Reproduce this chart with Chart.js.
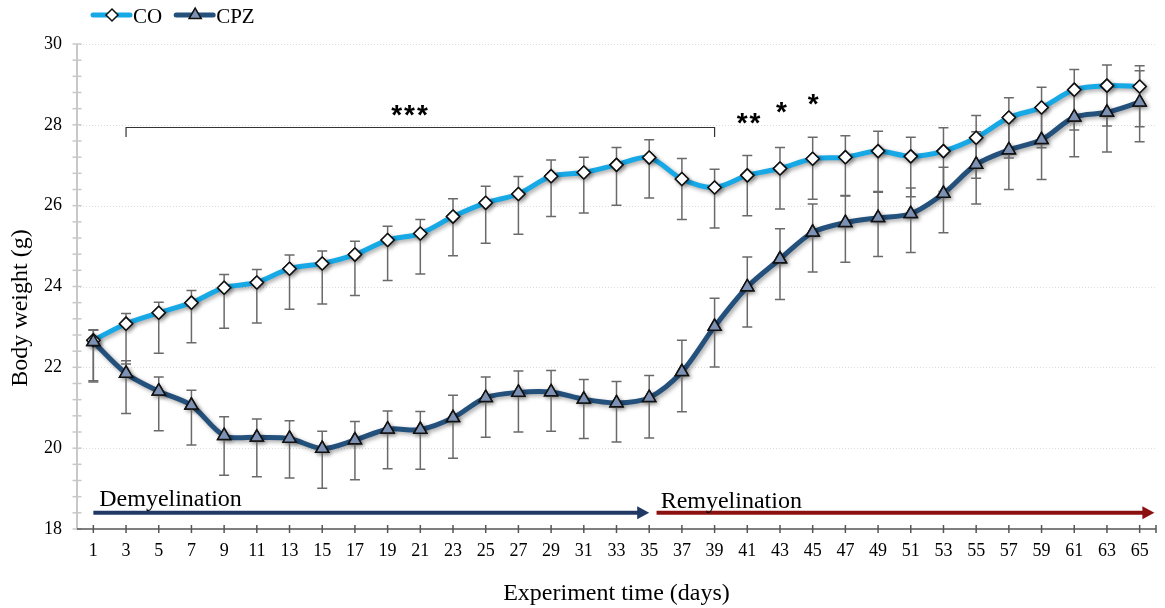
<!DOCTYPE html>
<html><head><meta charset="utf-8">
<script src="https://cdn.jsdelivr.net/npm/chart.js@4.4.1/dist/chart.umd.min.js"></script>
<style>html,body{margin:0;padding:0;background:#fff;}#wrap{width:1165px;height:608px;}</style>
</head><body><div id="wrap"><canvas id="c" width="1165" height="608"></canvas></div>
<script>
// ---- data ----
const days = [1,3,5,7,9,11,13,15,17,19,21,23,25,27,29,31,33,35,37,39,41,43,45,47,49,51,53,55,57,59,61,63,65];
const seriesNames = ['CO','CPZ'];
const coMean  = [22.67,23.08,23.35,23.60,23.97,24.10,24.44,24.57,24.79,25.15,25.31,25.73,26.07,26.29,26.73,26.82,27.01,27.19,26.66,26.45,26.75,26.92,27.16,27.20,27.35,27.22,27.35,27.68,28.18,28.43,28.87,28.97,28.95];
const coPlus  = [0.25,0.25,0.26,0.30,0.33,0.32,0.34,0.31,0.33,0.34,0.35,0.44,0.41,0.43,0.40,0.38,0.43,0.44,0.51,0.45,0.49,0.52,0.53,0.53,0.49,0.47,0.58,0.55,0.49,0.50,0.50,0.51,0.51];
const coMinus = [1.00,1.00,1.00,0.99,1.00,1.00,1.00,1.00,1.01,1.00,1.00,0.97,1.00,1.00,1.00,1.00,1.00,1.00,1.00,1.00,1.00,1.00,1.00,0.95,1.00,1.00,1.00,1.00,1.00,1.00,1.00,1.00,1.00];
const cpzMean  = [22.63,21.85,21.41,21.06,20.31,20.27,20.24,19.99,20.20,20.47,20.46,20.75,21.25,21.38,21.39,21.21,21.12,21.25,21.89,23.01,23.99,24.68,25.34,25.58,25.70,25.80,26.30,27.02,27.38,27.63,28.19,28.31,28.56];
const cpzPlus  = [0.30,0.31,0.35,0.37,0.47,0.45,0.44,0.43,0.46,0.45,0.45,0.56,0.51,0.53,0.53,0.49,0.53,0.55,0.78,0.70,0.74,0.75,0.70,0.66,0.63,0.64,0.65,0.81,0.70,0.70,0.72,0.72,0.78];
const cpzMinus = [0.99,0.99,0.98,0.98,0.98,0.98,0.98,0.98,0.98,0.98,0.98,1.00,0.98,0.98,0.97,0.97,0.97,1.00,0.99,1.00,0.99,1.00,0.98,0.98,0.96,0.96,0.97,0.98,0.98,0.98,0.98,0.98,0.98];
const yTicks = [18,20,22,24,26,28,30];
const phaseLabels = ['Demyelination','Remyelination'];
const sigLabels = ['***','**','*','*'];
const xTitle = 'Experiment time (days)';
const yTitle = 'Body weight (g)';

const SERIF = 'Liberation Serif';
Chart.defaults.font.family = SERIF;
Chart.defaults.color = '#000';

const toPts = (xs, ys) => xs.map((d, i) => ({x: d, y: ys[i]}));

// line shadow
const shadowPlugin = {
  id: 'shadow',
  beforeDatasetDraw(chart) {
    const ctx = chart.ctx; ctx.save();
    ctx.shadowColor = 'rgba(0,0,0,0.35)'; ctx.shadowBlur = 4; ctx.shadowOffsetX = 2; ctx.shadowOffsetY = 2;
  },
  afterDatasetDraw(chart) { chart.ctx.restore(); }
};

// axes, grid and ticks drawn like the original
const axesPlugin = {
  id: 'axesLook',
  beforeDatasetsDraw(chart, args, opts) {
    const {ctx, chartArea: a, scales: {x, y}} = chart;
    ctx.save();
    ctx.strokeStyle = '#dcdcdc'; ctx.lineWidth = 1; ctx.setLineDash([1, 2]);
    y.ticks.forEach(t => {
      if (t.value <= y.min) return;
      const py = Math.round(y.getPixelForValue(t.value)) + 0.5;
      ctx.beginPath(); ctx.moveTo(a.left, py); ctx.lineTo(a.right, py); ctx.stroke();
    });
    ctx.setLineDash([]);
    ctx.strokeStyle = '#c8c8c8'; ctx.lineWidth = 2;
    ctx.beginPath(); ctx.moveTo(a.left, a.top); ctx.lineTo(a.left, a.bottom); ctx.stroke();
    ctx.lineWidth = 1.5;
    for (let v = y.min; v <= y.max + 1e-6; v += opts.yMinorStep) {
      const py = y.getPixelForValue(v);
      ctx.beginPath(); ctx.moveTo(a.left - 4.5, py); ctx.lineTo(a.left + 4.5, py); ctx.stroke();
    }
    ctx.strokeStyle = '#555'; ctx.lineWidth = 1.5;
    ctx.beginPath(); ctx.moveTo(a.left, a.bottom); ctx.lineTo(a.right, a.bottom); ctx.stroke();
    const xt = x.ticks.map(t => t.value).concat([x.max]);
    xt.forEach(v => {
      const px = x.getPixelForValue(v);
      ctx.beginPath(); ctx.moveTo(px, a.bottom - 4); ctx.lineTo(px, a.bottom + 4); ctx.stroke();
    });
    ctx.restore();
  }
};

// error bars (drawn over lines, markers redrawn on top)
const errorBarPlugin = {
  id: 'errorBars',
  afterDatasetsDraw(chart) {
    const {ctx, scales: {x, y}} = chart;
    ctx.save();
    ctx.strokeStyle = '#6a6a6a'; ctx.lineWidth = 1.5;
    chart.data.datasets.forEach(ds => {
      ds.data.forEach((p, i) => {
        const px = x.getPixelForValue(p.x);
        const top = y.getPixelForValue(p.y + ds.errPlus[i]);
        const bot = y.getPixelForValue(p.y - ds.errMinus[i]);
        ctx.beginPath();
        ctx.moveTo(px, top); ctx.lineTo(px, bot);
        ctx.moveTo(px - 5, top); ctx.lineTo(px + 5, top);
        ctx.moveTo(px - 5, bot); ctx.lineTo(px + 5, bot);
        ctx.stroke();
      });
    });
    ctx.restore();
    const metas = chart.getSortedVisibleDatasetMetas();
    for (let k = metas.length - 1; k >= 0; k--) {
      metas[k].data.forEach(pt => pt.draw(ctx, chart.chartArea));
    }
  }
};

// legend, annotations, y title
const decoPlugin = {
  id: 'deco',
  afterDraw(chart, args, o) {
    const {ctx, scales: {x, y}} = chart;
    ctx.save();
    let cx = o.legendX;
    chart.data.datasets.forEach(ds => {
      ctx.strokeStyle = ds.borderColor; ctx.lineWidth = 5; ctx.lineCap = 'round';
      ctx.beginPath(); ctx.moveTo(cx, o.legendY); ctx.lineTo(cx + 37, o.legendY); ctx.stroke();
      ctx.fillStyle = ds.pointBackgroundColor; ctx.strokeStyle = ds.pointBorderColor; ctx.lineWidth = 1.5;
      Chart.helpers.drawPoint(ctx, {pointStyle: ds.pointStyle, radius: ds.pointRadius - 0.5, rotation: 0, borderWidth: 1.5}, cx + 19, o.legendY);
      ctx.font = '21px ' + SERIF; ctx.fillStyle = '#000'; ctx.textBaseline = 'alphabetic'; ctx.textAlign = 'left';
      ctx.fillText(ds.label, cx + 40, o.legendY + 8);
      cx += 40 + ctx.measureText(ds.label).width + 14;
    });
    o.phases.forEach(ph => {
      const x0 = x.getPixelForValue(ph.from), x1 = x.getPixelForValue(ph.to), py = y.getPixelForValue(ph.y);
      ctx.strokeStyle = ph.color; ctx.fillStyle = ph.color; ctx.lineWidth = 4; ctx.lineCap = 'butt';
      ctx.beginPath(); ctx.moveTo(x0, py); ctx.lineTo(x1 - 10, py); ctx.stroke();
      ctx.beginPath(); ctx.moveTo(x1, py); ctx.lineTo(x1 - 12, py - 6.5); ctx.lineTo(x1 - 12, py + 6.5); ctx.closePath(); ctx.fill();
      ctx.fillStyle = '#000'; ctx.font = '24px ' + SERIF; ctx.textAlign = 'left'; ctx.textBaseline = 'alphabetic';
      ctx.fillText(ph.text, x.getPixelForValue(ph.textX), y.getPixelForValue(ph.textY));
    });
    const b = o.bracket;
    const bx0 = x.getPixelForValue(b.from), bx1 = x.getPixelForValue(b.to);
    const by = Math.round(y.getPixelForValue(b.y)) + 0.5, bl = y.getPixelForValue(b.leg);
    ctx.strokeStyle = '#333'; ctx.lineWidth = 1.2; ctx.lineCap = 'butt';
    ctx.beginPath(); ctx.moveTo(bx0, bl); ctx.lineTo(bx0, by); ctx.lineTo(bx1, by); ctx.lineTo(bx1, bl); ctx.stroke();
    ctx.fillStyle = '#000'; ctx.font = 'bold 28px Liberation Sans'; ctx.textAlign = 'center'; ctx.textBaseline = 'alphabetic';
    if ('letterSpacing' in ctx) ctx.letterSpacing = '2px';
    o.stars.forEach(s => {
      ctx.fillText(s.text, x.getPixelForValue(s.x) + 1, y.getPixelForValue(s.y) + 12);
    });
    if ('letterSpacing' in ctx) ctx.letterSpacing = '0px';
    ctx.translate(o.yTitleX, o.yTitleY); ctx.rotate(-Math.PI / 2);
    ctx.font = '24px ' + SERIF; ctx.textAlign = 'center'; ctx.textBaseline = 'middle';
    ctx.fillText(yTitle, 0, 0);
    ctx.restore();
  }
};

new Chart(document.getElementById('c'), {
  type: 'line',
  data: {
    datasets: [
      { label: seriesNames[0], data: toPts(days, coMean), errPlus: coPlus, errMinus: coMinus,
        borderColor: '#17A8E6', borderWidth: 5, tension: 0.3, fill: false,
        pointStyle: 'rectRot', pointRadius: 6.5, pointBackgroundColor: '#ffffff', pointBorderColor: '#111', pointBorderWidth: 1.5, order: 1 },
      { label: seriesNames[1], data: toPts(days, cpzMean), errPlus: cpzPlus, errMinus: cpzMinus,
        borderColor: '#24507C', borderWidth: 5, tension: 0.3, fill: false,
        pointStyle: 'triangle', pointRadius: 7.5, pointBackgroundColor: '#7C91B3', pointBorderColor: '#111', pointBorderWidth: 1.5, order: 0 }
    ]
  },
  options: {
    responsive: false, animation: false, devicePixelRatio: 1,
    layout: { padding: { top: 44, right: 3, left: 0, bottom: 0 } },
    plugins: {
      legend: { display: false }, tooltip: { enabled: false },
      axesLook: { yMinorStep: 0.4 },
      deco: {
        legendX: 93, legendY: 15,
        yTitleX: 21, yTitleY: 308,
        phases: [
          { text: phaseLabels[0], from: 1.0, to: 35.0, y: 18.4, color: '#203864', textX: 1.36, textY: 18.57 },
          { text: phaseLabels[1], from: 35.45, to: 65.9, y: 18.4, color: '#8B1111', textX: 35.7, textY: 18.52 }
        ],
        bracket: { from: 3, to: 39, y: 27.94, leg: 27.70 },
        stars: [
          { text: sigLabels[0], x: 20.34, y: 28.31 },
          { text: sigLabels[1], x: 41.08, y: 28.13 },
          { text: sigLabels[2], x: 43.09, y: 28.39 },
          { text: sigLabels[3], x: 45.03, y: 28.58 }
        ]
      }
    },
    scales: {
      x: {
        type: 'linear', min: 0, max: 66,
        afterBuildTicks: s => { s.ticks = days.map(v => ({ value: v })); },
        afterFit: s => { s.height = 79; },
        ticks: { autoSkip: false, maxRotation: 0, padding: 11, font: { size: 18 }, color: '#000', callback: v => String(v) },
        grid: { display: false, drawTicks: false },
        border: { display: false },
        title: { display: true, text: xTitle, font: { size: 24 }, color: '#000', padding: { top: 0, bottom: 0 } }
      },
      y: {
        min: 18, max: 30,
        afterBuildTicks: s => { s.ticks = yTicks.map(v => ({ value: v })); },
        afterFit: s => { s.width = 77; },
        ticks: { padding: 15, font: { size: 18 }, color: '#000' },
        grid: { display: false, drawTicks: false },
        border: { display: false }
      }
    }
  },
  plugins: [shadowPlugin, axesPlugin, errorBarPlugin, decoPlugin]
});
</script></body></html>
